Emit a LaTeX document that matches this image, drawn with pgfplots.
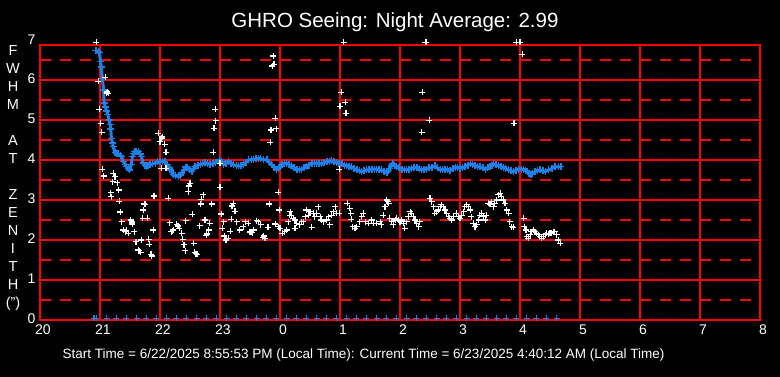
\documentclass[border=0pt]{standalone}
\usepackage{pgfplots}
\pgfplotsset{compat=1.18}
\usepackage{fontspec}
\setmainfont{Liberation Sans}
\definecolor{gridred}{RGB}{255,0,0}
\definecolor{seeblue}{RGB}{30,128,235}
\begin{document}
\begin{tikzpicture}[x=1pt,y=1pt]
\fill[black] (0,0) rectangle (780,377);
\begin{axis}[at={(40pt,57pt)}, anchor=south west, scale only axis,
  width=720pt, height=275pt,
  xmin=20, xmax=32, ymin=0, ymax=6.875, clip=false,
  axis line style={gridred, line width=1.2pt},
  xtick={20,21,...,32}, xticklabels={20,21,22,23,0,1,2,3,4,5,6,7,8},
  ytick={0,1,...,6}, minor ytick={0.5,1.5,...,6.5},
  grid=both,
  major grid style={gridred, line width=1.2pt},
  minor grid style={gridred, line width=1.2pt, dash pattern=on 11pt off 9pt},
  major tick length=0pt, minor tick length=0pt,
  tick label style={text=white, font=\fontsize{14}{16}\selectfont},
  xticklabel style={xshift=3pt, yshift=-1pt},
  yticklabel style={xshift=-1pt, yshift=1pt},
  /pgf/number format/assume math mode=true,
  extra y ticks={6.875}, extra y tick labels={7},
  extra y tick style={grid=none, yticklabel style={yshift=4pt}},
]
% smoothed seeing (blue)
\addplot[seeblue, line width=3pt, mark=+, mark size=3.5pt, mark options={line width=1.4pt}] coordinates {
(20.92,6.73) (20.94,6.73) (20.97,6.70) (20.99,6.68) (21.01,6.46) (21.02,6.32) (21.04,6.04) (21.06,5.75)
(21.07,5.42) (21.09,5.32) (21.11,5.22) (21.13,5.14) (21.15,5.00) (21.17,4.88) (21.18,4.77) (21.19,4.54)
(21.21,4.42) (21.22,4.33) (21.25,4.18) (21.28,4.16) (21.31,4.15) (21.34,4.11) (21.36,4.08) (21.39,3.96)
(21.42,3.88) (21.44,3.83) (21.47,3.78) (21.49,3.75) (21.52,3.88) (21.54,4.08) (21.56,4.16) (21.58,4.21)
(21.61,4.22) (21.64,4.21) (21.67,4.15) (21.69,4.08) (21.72,3.92) (21.75,3.86) (21.77,3.83) (21.80,3.86)
(21.83,3.88) (21.87,3.90) (21.92,3.92) (21.96,3.95) (22.00,3.96) (22.04,3.97) (22.08,3.96) (22.12,3.88)
(22.15,3.80) (22.17,3.75) (22.20,3.68) (22.22,3.63) (22.26,3.60) (22.31,3.58) (22.34,3.62) (22.36,3.67)
(22.40,3.76) (22.43,3.82) (22.46,3.80) (22.49,3.77) (22.53,3.71) (22.56,3.78) (22.58,3.83) (22.63,3.87)
(22.67,3.89) (22.71,3.91) (22.75,3.93) (22.79,3.92) (22.83,3.89) (22.88,3.91) (22.92,3.93) (22.99,4.00)
(23.02,3.95) (23.06,3.88) (23.10,3.92) (23.14,3.96) (23.18,3.92) (23.22,3.88) (23.27,3.86) (23.31,3.85)
(23.35,3.86) (23.39,3.88) (23.43,3.94) (23.47,4.00) (23.52,4.01) (23.56,4.02) (23.60,4.03) (23.64,4.04)
(23.67,4.04) (23.72,4.01) (23.78,4.00) (23.82,3.94) (23.86,3.88) (23.90,3.82) (23.94,3.76) (23.97,3.78)
(24.00,3.83) (24.03,3.88) (24.07,3.90) (24.11,3.92) (24.15,3.88) (24.19,3.85) (24.23,3.80) (24.28,3.75)
(24.32,3.76) (24.36,3.77) (24.40,3.80) (24.44,3.83) (24.48,3.87) (24.53,3.92) (24.57,3.92) (24.61,3.92)
(24.65,3.91) (24.69,3.90) (24.73,3.93) (24.78,3.96) (24.82,3.97) (24.86,3.98) (24.90,3.95) (24.94,3.93)
(24.98,3.91) (25.03,3.90) (25.07,3.87) (25.11,3.85) (25.15,3.84) (25.19,3.83) (25.23,3.79) (25.28,3.75)
(25.32,3.73) (25.36,3.71) (25.40,3.73) (25.44,3.75) (25.48,3.76) (25.53,3.77) (25.57,3.77) (25.61,3.77)
(25.65,3.76) (25.69,3.75) (25.73,3.72) (25.78,3.68) (25.81,3.74) (25.83,3.79) (25.86,3.85) (25.88,3.90)
(25.91,3.86) (25.94,3.83) (25.98,3.80) (26.03,3.77) (26.07,3.76) (26.11,3.75) (26.15,3.77) (26.19,3.79)
(26.23,3.81) (26.28,3.82) (26.32,3.78) (26.36,3.75) (26.40,3.76) (26.44,3.77) (26.48,3.80) (26.53,3.82)
(26.58,3.85) (26.62,3.80) (26.67,3.75) (26.71,3.76) (26.75,3.77) (26.79,3.75) (26.83,3.73) (26.88,3.78)
(26.92,3.82) (26.96,3.81) (27.00,3.79) (27.04,3.81) (27.08,3.83) (27.13,3.87) (27.17,3.90) (27.21,3.88)
(27.25,3.85) (27.29,3.84) (27.33,3.83) (27.38,3.80) (27.42,3.77) (27.46,3.80) (27.50,3.83) (27.53,3.87)
(27.56,3.90) (27.60,3.88) (27.64,3.85) (27.68,3.84) (27.72,3.82) (27.76,3.79) (27.81,3.75) (27.85,3.73)
(27.89,3.71) (27.93,3.74) (27.97,3.77) (28.02,3.77) (28.06,3.77) (28.09,3.74) (28.12,3.71) (28.15,3.67)
(28.18,3.63) (28.21,3.67) (28.25,3.71) (28.29,3.73) (28.33,3.75) (28.38,3.73) (28.42,3.71) (28.47,3.75)
(28.53,3.79) (28.58,3.83) (28.64,3.83) (28.68,3.83)
};
% individual measurements (white)
\addplot[only marks, mark=+, mark size=3pt, white, mark options={line width=1.2pt}] coordinates {
(20.94,6.94) (20.97,5.97) (20.99,5.27) (21.01,4.92) (21.03,4.69) (21.09,6.07) (21.14,5.67) (21.11,5.67)
(21.12,5.70) (21.04,3.77) (21.06,3.60) (21.18,3.18) (21.19,3.08) (21.22,3.67) (21.25,3.58) (21.21,3.46)
(21.29,3.43) (21.31,3.25) (21.32,2.97) (21.34,2.70) (21.36,2.46) (21.39,2.25) (21.42,2.21) (21.44,2.24)
(21.47,2.17) (21.51,2.50) (21.54,2.40) (21.53,2.45) (21.57,2.21) (21.60,1.96) (21.64,1.75) (21.65,1.73)
(21.68,1.69) (21.69,2.00) (21.72,2.75) (21.74,2.90) (21.75,2.89) (21.71,2.54) (21.79,2.54) (21.81,2.02)
(21.82,1.89) (21.85,1.64) (21.86,1.60) (21.89,2.25) (21.90,3.10) (21.97,4.67) (22.04,4.58) (22.03,4.55)
(22.00,4.46) (22.08,4.39) (22.10,4.19) (22.02,3.79) (22.10,3.79) (22.14,3.04) (22.16,2.43) (22.19,2.21)
(22.21,2.23) (22.22,2.25) (22.28,2.39) (22.32,2.29) (22.30,2.35) (22.36,2.17) (22.38,2.02) (22.40,1.88)
(22.42,1.73) (22.43,2.48) (22.47,3.21) (22.48,3.35) (22.50,3.42) (22.54,2.64) (22.56,1.92) (22.58,1.69)
(22.60,1.66) (22.62,1.64) (22.66,2.36) (22.68,2.90) (22.69,3.02) (22.72,3.13) (22.75,2.50) (22.77,2.12)
(22.78,2.15) (22.81,2.25) (22.83,2.42) (22.86,2.90) (22.89,4.19) (22.90,4.79) (22.92,5.27) (22.93,4.98)
(23.00,3.92) (23.00,3.32) (23.02,2.65) (23.04,2.29) (23.06,2.46) (23.07,2.10) (23.10,2.00) (23.14,2.04)
(23.17,2.22) (23.19,2.52) (23.20,2.85) (23.22,2.92) (23.25,2.72) (23.28,2.46) (23.33,2.25) (23.39,2.33)
(23.42,2.46) (23.47,2.42) (23.50,2.20) (23.52,2.21) (23.54,2.18) (23.56,2.25) (23.61,2.48) (23.64,2.46)
(23.68,2.38) (23.71,2.07) (23.73,2.10) (23.75,2.04) (23.80,2.32) (23.82,2.90) (23.84,4.44) (23.85,4.75)
(23.87,6.35) (23.89,6.60) (23.90,6.39) (23.92,5.04) (23.94,4.78) (23.92,2.40) (23.97,3.19) (23.97,2.33)
(23.99,2.75) (24.00,2.29) (24.04,2.17) (24.08,2.21) (24.11,2.25) (24.14,2.46) (24.16,2.62) (24.17,2.71)
(24.19,2.62) (24.22,2.54) (24.25,2.50) (24.25,2.29) (24.28,2.42) (24.33,2.38) (24.36,2.46) (24.39,2.46)
(24.42,2.58) (24.44,2.75) (24.47,2.62) (24.50,2.71) (24.53,2.32) (24.56,2.67) (24.58,2.58) (24.61,2.67)
(24.64,2.83) (24.67,2.58) (24.69,2.50) (24.72,2.46) (24.78,2.50) (24.81,2.58) (24.83,2.38) (24.86,2.62)
(24.89,2.71) (24.92,2.83) (24.94,2.67) (24.99,2.67) (24.99,3.77) (25.00,5.34) (25.02,5.69) (25.06,6.94)
(25.09,5.44) (25.10,5.17) (25.12,2.92) (25.16,2.79) (25.18,2.67) (25.19,2.52) (25.21,2.33) (25.25,2.29)
(25.28,2.33) (25.33,2.46) (25.36,2.58) (25.39,2.67) (25.42,2.46) (25.47,2.42) (25.53,2.50) (25.56,2.42)
(25.61,2.42) (25.67,2.46) (25.69,2.38) (25.72,2.62) (25.75,2.83) (25.78,3.00) (25.80,2.96) (25.81,2.92)
(25.83,2.54) (25.86,2.46) (25.89,2.38) (25.92,2.50) (25.94,2.54) (25.97,2.50) (26.00,2.46) (26.03,2.50)
(26.06,2.42) (26.08,2.29) (26.11,2.46) (26.14,2.58) (26.17,2.71) (26.19,2.67) (26.22,2.58) (26.25,2.50)
(26.28,2.42) (26.31,2.33) (26.33,2.46) (26.36,4.69) (26.37,5.69) (26.42,6.94) (26.44,6.94) (26.49,4.99)
(26.50,3.04) (26.53,2.96) (26.56,2.83) (26.58,2.67) (26.61,2.71) (26.64,2.75) (26.67,2.83) (26.69,2.88)
(26.72,2.83) (26.75,2.75) (26.78,2.67) (26.81,2.58) (26.83,2.54) (26.86,2.50) (26.89,2.58) (26.94,2.67)
(26.97,2.58) (27.00,2.54) (27.03,2.62) (27.06,2.71) (27.08,2.83) (27.11,2.88) (27.14,2.83) (27.17,2.75)
(27.19,2.58) (27.22,2.42) (27.25,2.33) (27.28,2.38) (27.31,2.50) (27.33,2.62) (27.36,2.67) (27.39,2.58)
(27.42,2.50) (27.44,2.62) (27.47,2.92) (27.50,2.90) (27.53,2.96) (27.56,2.83) (27.58,2.92) (27.61,3.00)
(27.64,3.13) (27.67,3.17) (27.69,3.08) (27.72,3.00) (27.75,2.92) (27.78,2.75) (27.81,2.67) (27.83,2.46)
(27.86,2.33) (27.89,2.32) (27.90,4.92) (27.94,6.94) (28.00,6.94) (28.04,6.64) (28.06,2.54) (28.07,2.33)
(28.10,2.25) (28.11,2.08) (28.14,2.04) (28.17,2.13) (28.19,2.21) (28.22,2.25) (28.25,2.21) (28.28,2.17)
(28.31,2.13) (28.33,2.08) (28.36,2.04) (28.39,2.08) (28.42,2.13) (28.44,2.17) (28.47,2.15) (28.50,2.17)
(28.53,2.18) (28.56,2.21) (28.58,2.21) (28.61,2.13) (28.64,2.00) (28.67,1.92)
};
% sample markers along the bottom (blue)
\addplot[only marks, mark=+, mark size=3pt, seeblue, mark options={line width=1.2pt}] coordinates {
(20.90,0.04) (20.94,0.04) (21.11,0.04) (21.27,0.04) (21.44,0.04) (21.61,0.04) (21.77,0.04) (21.94,0.04)
(22.11,0.04) (22.27,0.04) (22.44,0.04) (22.61,0.04) (22.77,0.04) (22.94,0.04) (23.11,0.04) (23.27,0.04)
(23.44,0.04) (23.61,0.04) (23.77,0.04) (23.94,0.04) (24.11,0.04) (24.27,0.04) (24.44,0.04) (24.61,0.04)
(24.77,0.04) (24.94,0.04) (25.11,0.04) (25.27,0.04) (25.44,0.04) (25.61,0.04) (25.77,0.04) (25.94,0.04)
(26.11,0.04) (26.27,0.04) (26.44,0.04) (26.61,0.04) (26.77,0.04) (26.94,0.04) (27.11,0.04) (27.27,0.04)
(27.44,0.04) (27.61,0.04) (27.77,0.04) (27.94,0.04) (28.11,0.04) (28.27,0.04) (28.44,0.04) (28.61,0.04)
};
\end{axis}
\node[text=white, font=\fontsize{20.5}{24}\selectfont, anchor=base] at (395,349) {GHRO Seeing: Night Average: 2.99};
\node[text=white, font=\fontsize{13.5}{16}\selectfont, anchor=base] at (363.5,18) {Start Time = 6/22/2025 8:55:53 PM (Local Time): Current Time = 6/23/2025 4:40:12 AM (Local Time)};
\node[text=white, font=\fontsize{14.5}{18}\selectfont, align=center, inner sep=0pt] at (13,199) {F\\W\\H\\M\\\mbox{}\\A\\T\\\mbox{}\\Z\\E\\N\\I\\T\\H\\(")};
\end{tikzpicture}
\end{document}
